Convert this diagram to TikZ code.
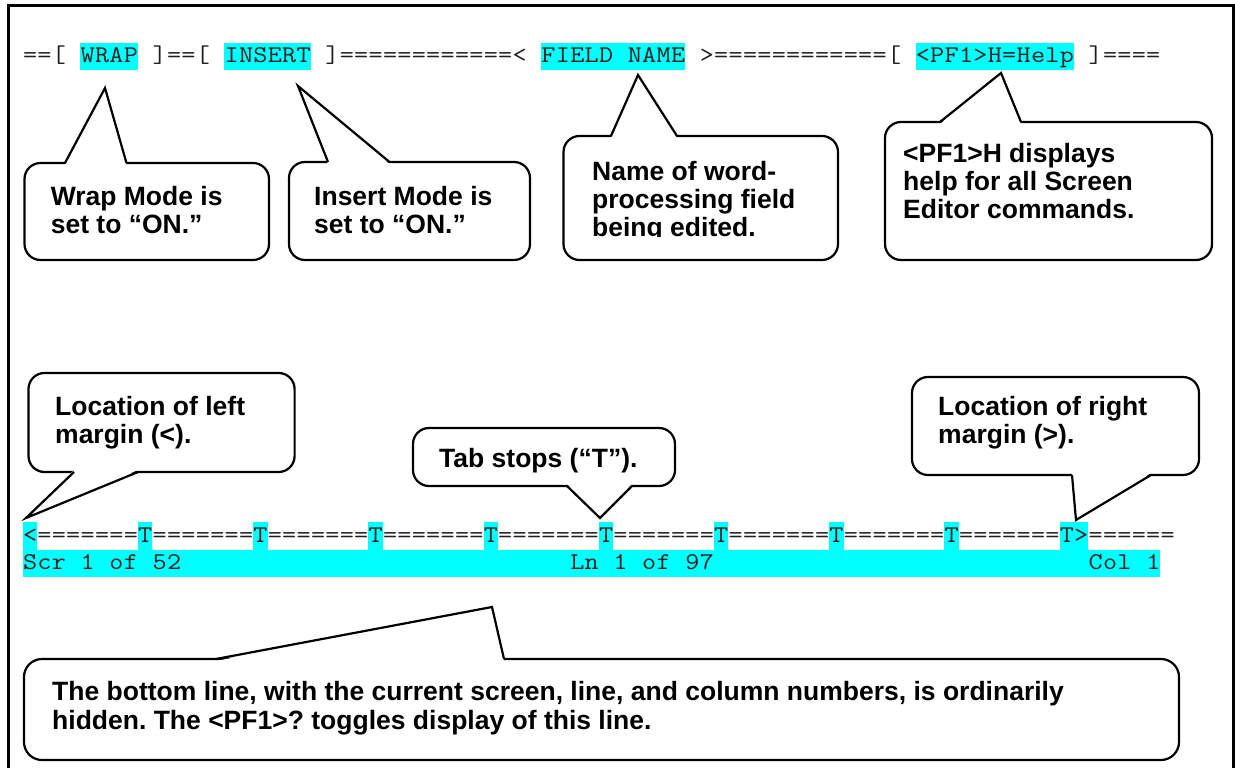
\documentclass[tikz,border=0pt]{standalone}
\usepackage{fontspec}
\setmainfont{Liberation Sans}
\newfontfamily\monofont[FakeStretch=1.14]{Latin Modern Mono}
\usetikzlibrary{calc}
\definecolor{hl}{RGB}{0,255,255}
\definecolor{monotext}{RGB}{30,30,30}
% fixed-pitch typesetting: every character in a 14.4pt cell, "_" = blank cell
\def\mcend{\mcend}
\newcommand\mstr[1]{\mcloop#1\mcend}
\def\mcloop#1{\ifx#1\mcend\else\hbox to 14.4pt{\hss\ifx#1_\else#1\fi\hss}\expandafter\mcloop\fi}
\begin{document}
\frenchspacing
\begin{tikzpicture}[x=1pt,y=-1pt,
  mono/.style={font=\monofont\fontsize{24}{27.5}\selectfont, text=monotext, inner sep=0pt, anchor=base west},
  callbox/.style={draw=black, line width=2.2pt, rounded corners=16pt, fill=white, inner sep=0pt},
  calltext/.style={font=\fontsize{26.5}{28}\selectfont\bfseries, align=left, inner sep=0pt, anchor=base west},
  ptr/.style={draw=black, line width=2.2pt, line join=miter},
  cover/.style={fill=white, draw=none}]
\useasboundingbox (0,0) rectangle (1235,768);
\fill[white] (0,0) rectangle (1235,768);
% frame
\draw[line width=3pt, line join=miter] (8.5,790) -- (8.5,6) -- (1233.5,6) -- (1233.5,790);

% ---------- top line ----------
\fill[hl] (80.3,42.6) rectangle (137.9,70);
\fill[hl] (224.3,42.6) rectangle (310.7,70);
\fill[hl] (541.1,42.6) rectangle (685.1,70);
\fill[hl] (915.5,42.6) rectangle (1073.9,70);
\node[mono] (topline) at (22.7,63) {\mstr{==[_WRAP_]==[_INSERT_]============<_FIELD_NAME_>============[_<PF1>H=Help_]====}};

% ---------- ruler and status line ----------
\fill[hl] (22.7,522) rectangle ++(14.4,27.5);
\foreach \k in {1,...,8} \fill[hl] ({22.7+8*\k*14.4},522) rectangle ++(14.4,27.5);
\fill[hl] ({22.7+72*14.4},522) rectangle ++(28.8,27.5);
\fill[hl] (22.7,549.5) rectangle (1160.3,577);
\node[mono] (ruler) at (22.7,542) {\mstr{<=======T=======T=======T=======T=======T=======T=======T=======T=======T>======}};
\node[mono] (scr) at (22.7,569.5) {\mstr{Scr_1_of_52}};
\node[mono] (ln) at (569.9,569.5) {\mstr{Ln_1_of_97}};
\node[mono] (col) at (1088.3,569.5) {\mstr{Col_1}};

% ---------- callout: wrap ----------
\node[callbox, minimum width=244.5pt, minimum height=97pt] (wrapBox) at (146.75,211.5) {};
\coordinate (wrapTip) at (105,88);
\coordinate (wrapB1) at (65,163);
\coordinate (wrapB2) at (126.5,163);
\fill[cover] ($(wrapB1)+(0,2)$) -- (wrapTip) -- ($(wrapB2)+(0,2)$) -- cycle;
\draw[ptr] (wrapB1) -- (wrapTip) -- (wrapB2);
\node[calltext] (wrapText) at (50.6,233) {Wrap Mode is\\set to “ON.”};

% ---------- callout: insert ----------
\node[callbox, minimum width=241pt, minimum height=98pt] (insBox) at (409.5,211) {};
\coordinate (insTip) at (298,86);
\coordinate (insB1) at (328,162);
\coordinate (insB2) at (389.5,162);
\fill[cover] ($(insB1)+(0,2)$) -- (insTip) -- ($(insB2)+(0,2)$) -- cycle;
\draw[ptr] (insB1) -- (insTip) -- (insB2);
\node[calltext] (insText) at (314,233) {Insert Mode is\\set to “ON.”};

% ---------- callout: field name ----------
\node[callbox, minimum width=274.5pt, minimum height=124pt] (fldBox) at (700.75,198) {};
\coordinate (fldTip) at (638,75);
\coordinate (fldB1) at (611,136);
\coordinate (fldB2) at (677,136);
\fill[cover] ($(fldB1)+(0,2)$) -- (fldTip) -- ($(fldB2)+(0,2)$) -- cycle;
\draw[ptr] (fldB1) -- (fldTip) -- (fldB2);
\begin{scope}
\clip (565,138) rectangle (836,236);
\node[calltext] (fldText) at (592,236) {Name of word-\\processing field\\being edited.};
\end{scope}

% ---------- callout: PF1 help ----------
\node[callbox, minimum width=327pt, minimum height=138pt] (pfBox) at (1048.5,191) {};
\coordinate (pfTip) at (1001,73);
\coordinate (pfB1) at (940,122);
\coordinate (pfB2) at (1021,122);
\fill[cover] ($(pfB1)+(0,2)$) -- (pfTip) -- ($(pfB2)+(0,2)$) -- cycle;
\draw[ptr] (pfB1) -- (pfTip) -- (pfB2);
\node[calltext] (pfText) at (903,218) {<PF1>H displays\\help for all Screen\\Editor commands.};

% ---------- callout: left margin ----------
\node[callbox, minimum width=266.1pt, minimum height=99pt] (lmBox) at (161.55,422.5) {};
\coordinate (lmTip) at (26,518);
\coordinate (lmB1) at (74,472);
\coordinate (lmB2) at (138,472);
\fill[cover] ($(lmB1)+(0,-2)$) -- (lmTip) -- ($(lmB2)+(0,-2)$) -- cycle;
\draw[ptr] (lmB1) -- (lmTip) -- (lmB2);
\node[calltext] (lmText) at (55,443) {Location of left\\margin (<).};

% ---------- callout: tab stops ----------
\node[callbox, minimum width=262pt, minimum height=58pt] (tabBox) at (544,457) {};
\coordinate (tabTip) at (600,518);
\coordinate (tabB1) at (567,486);
\coordinate (tabB2) at (632,486);
\fill[cover] ($(tabB1)+(0,-2)$) -- (tabTip) -- ($(tabB2)+(0,-2)$) -- cycle;
\draw[ptr] (tabB1) -- (tabTip) -- (tabB2);
\node[calltext] (tabText) at (439,467) {Tab stops (“T”).};

% ---------- callout: right margin ----------
\node[callbox, minimum width=287pt, minimum height=98pt] (rmBox) at (1055.5,426) {};
\coordinate (rmTip) at (1076,520);
\coordinate (rmB1) at (1072,475);
\coordinate (rmB2) at (1151,475);
\fill[cover] ($(rmB1)+(0,-2)$) -- (rmTip) -- ($(rmB2)+(0,-2)$) -- cycle;
\draw[ptr] (rmB1) -- (rmTip) -- (rmB2);
\node[calltext] (rmText) at (938,443) {Location of right\\margin (>).};

% ---------- callout: bottom line ----------
\node[callbox, rounded corners=18pt, minimum width=1155pt, minimum height=101pt] (botBox) at (601.5,709.5) {};
\coordinate (botTip) at (492,607);
\coordinate (botB1) at (216,659);
\coordinate (botB2) at (504,659);
\fill[cover] ($(botB1)+(0,2)$) -- (botTip) -- ($(botB2)+(0,2)$) -- cycle;
\draw[ptr] (botB1) -- (botTip) -- (botB2);
\node[calltext, font=\fontsize{26.5}{29}\selectfont\bfseries] (botText) at (52,729) {The bottom line, with the current screen, line, and column numbers, is ordinarily\\hidden. The <PF1>? toggles display of this line.};
\end{tikzpicture}
\end{document}
